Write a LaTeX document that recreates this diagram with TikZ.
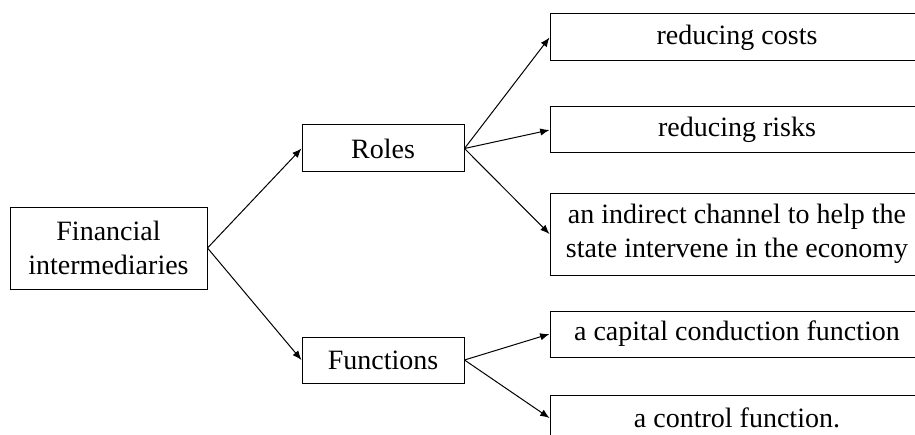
\documentclass[tikz,border=0pt]{standalone}
\usepackage{fontspec}
\setmainfont{Liberation Serif}
\usetikzlibrary{arrows.meta}
\begin{document}
\begin{tikzpicture}[x=0.75pt,y=-0.75pt,
  box/.style={draw, line width=0.75pt, inner sep=0pt, align=center,
    font=\fontsize{21}{25.5}\selectfont},
  conn/.style={line width=0.75pt, -{Latex[length=7pt,width=5.5pt]}}]
\useasboundingbox (0,0) rectangle (915,435);
\clip (0,0) rectangle (915,435);
\node[box, minimum width=147.75pt, minimum height=61.5pt] (fin) at (108.5,248) {Financial\\intermediaries};
\node[box, minimum width=121.5pt, minimum height=35.25pt] (roles) at (383,148.5) {Roles};
\node[box, minimum width=121.5pt, minimum height=34.5pt] (func) at (383,360) {Functions};
\node[box, minimum width=280.5pt, minimum height=35.25pt] (c1) at (737,37.5) {reducing costs};
\node[box, minimum width=280.5pt, minimum height=34.5pt] (c2) at (737,130) {reducing risks};
\node[box, minimum width=280.5pt, minimum height=61.5pt] (c3) at (737,234) {an indirect channel to help the\\state intervene in the economy};
\node[box, minimum width=280.5pt, minimum height=34.5pt] (c4) at (737,334) {a capital conduction function};
\node[box, minimum width=280.5pt, minimum height=34.5pt] (c5) at (737,418) {a control function.};
\draw[conn] (fin.east) -- (roles.west);
\draw[conn] (fin.east) -- (func.west);
\draw[conn] (roles.east) -- (c1.west);
\draw[conn] (roles.east) -- (c2.west);
\draw[conn] (roles.east) -- (c3.west);
\draw[conn] (func.east) -- (c4.west);
\draw[conn] (func.east) -- (c5.west);
\end{tikzpicture}
\end{document}
